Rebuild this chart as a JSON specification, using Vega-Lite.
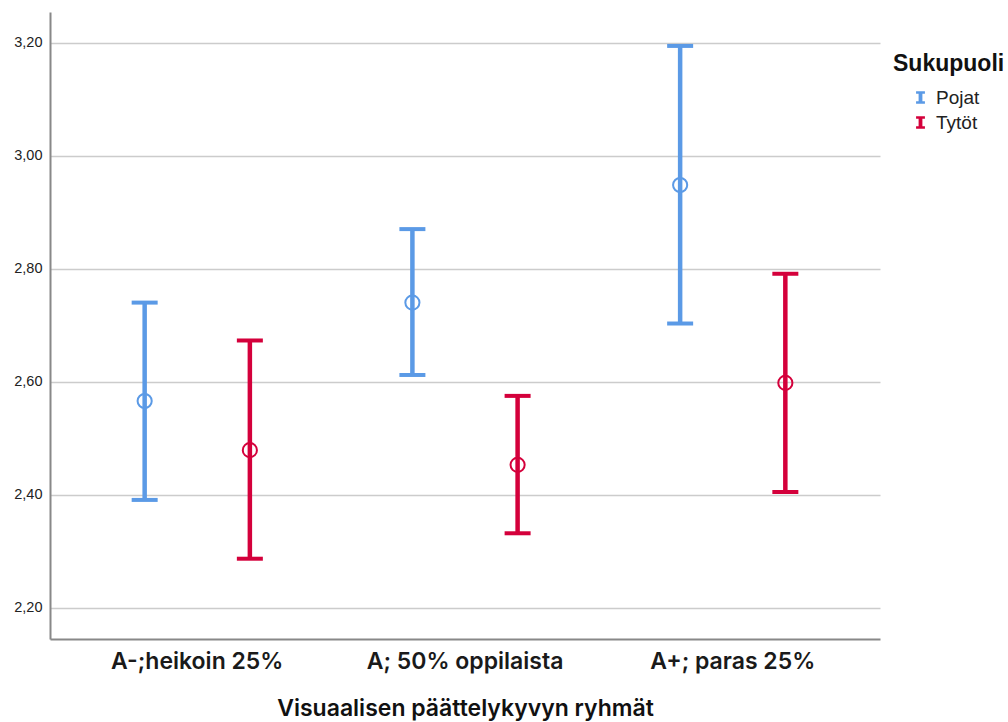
{
  "$schema": "https://vega.github.io/schema/vega-lite/v6.json",
  "width": 830,
  "height": 627,
  "autosize": {"type": "none"},
  "padding": {"left": 50, "top": 12, "right": 128, "bottom": 83},
  "config": {"view": {"stroke": null}, "font": "Liberation Sans"},
  "data": {"values": [
    {"group": "A-;heikoin 25%", "gender": "Pojat", "mean": 2.566, "lo": 2.391, "hi": 2.740},
    {"group": "A-;heikoin 25%", "gender": "Tytöt", "mean": 2.479, "lo": 2.287, "hi": 2.673},
    {"group": "A; 50% oppilaista", "gender": "Pojat", "mean": 2.740, "lo": 2.612, "hi": 2.870},
    {"group": "A; 50% oppilaista", "gender": "Tytöt", "mean": 2.453, "lo": 2.332, "hi": 2.575},
    {"group": "A+; paras 25%", "gender": "Pojat", "mean": 2.948, "lo": 2.703, "hi": 3.194},
    {"group": "A+; paras 25%", "gender": "Tytöt", "mean": 2.598, "lo": 2.405, "hi": 2.791}
  ]},
  "encoding": {
    "x": {
      "field": "group", "type": "nominal",
      "sort": ["A-;heikoin 25%", "A; 50% oppilaista", "A+; paras 25%"],
      "scale": {"paddingInner": 0, "paddingOuter": 0.05},
      "axis": {
        "title": "Visuaalisen päättelykyvyn ryhmät",
        "titleFont": "Inter", "titleFontSize": 23, "titleFontWeight": 600, "titleColor": "#111", "titlePadding": 24,
        "labelFont": "Inter", "labelFontSize": 23, "labelFontWeight": 600, "labelColor": "#1a1a1a", "labelAngle": 0, "labelPadding": 11, "labelLimit": 0,
        "ticks": false, "grid": false, "domainColor": "#888888", "domainWidth": 2
      }
    },
    "xOffset": {
      "field": "gender", "type": "nominal", "sort": ["Pojat", "Tytöt"],
      "scale": {"paddingInner": 0, "paddingOuter": 0.2725}
    },
    "color": {
      "field": "gender", "type": "nominal",
      "scale": {"domain": ["Pojat", "Tytöt"], "range": ["#5b9ae6", "#d4003b"]},
      "legend": {
        "title": "Sukupuoli", "orient": "none", "legendX": 843, "legendY": 41,
        "titleFontSize": 23, "titleFontWeight": "bold", "titleColor": "#111", "titlePadding": 12,
        "labelFontSize": 19, "labelColor": "#222", "rowPadding": 5, "labelOffset": 6,
        "symbolType": "M-0.7,-1H0.7V-0.6H0.3V0.6H0.7V1H-0.7V0.6H-0.3V-0.6H-0.7Z",
        "symbolSize": 160, "symbolStrokeWidth": 0, "symbolOffset": 18,
        "encode": {"symbols": {"update": {"fill": {"scale": "color", "field": "value"}, "strokeWidth": {"value": 0}}}}
      }
    }
  },
  "layer": [
    {
      "mark": {"type": "rule", "strokeWidth": 4.5},
      "encoding": {
        "y": {
          "field": "lo", "type": "quantitative",
          "scale": {"domain": [2.145, 3.254], "nice": false, "zero": false},
          "axis": {
            "title": null, "values": [2.2, 2.4, 2.6, 2.8, 3.0, 3.2],
            "labelExpr": "replace(format(datum.value, '.2f'), '.', ',')",
            "labelFontSize": 14.5, "labelColor": "#222", "labelPadding": 8,
            "ticks": false, "grid": true, "gridColor": "#cccccc", "gridWidth": 1.5,
            "domainColor": "#888888", "domainWidth": 2
          }
        },
        "y2": {"field": "hi"}
      }
    },
    {
      "mark": {"type": "tick", "thickness": 4, "size": 26, "opacity": 1},
      "encoding": {"y": {"field": "lo", "type": "quantitative"}}
    },
    {
      "mark": {"type": "tick", "thickness": 4, "size": 26, "opacity": 1},
      "encoding": {"y": {"field": "hi", "type": "quantitative"}}
    },
    {
      "mark": {"type": "point", "shape": "circle", "filled": false, "size": 200, "strokeWidth": 2, "opacity": 1},
      "encoding": {"y": {"field": "mean", "type": "quantitative"}}
    }
  ]
}
